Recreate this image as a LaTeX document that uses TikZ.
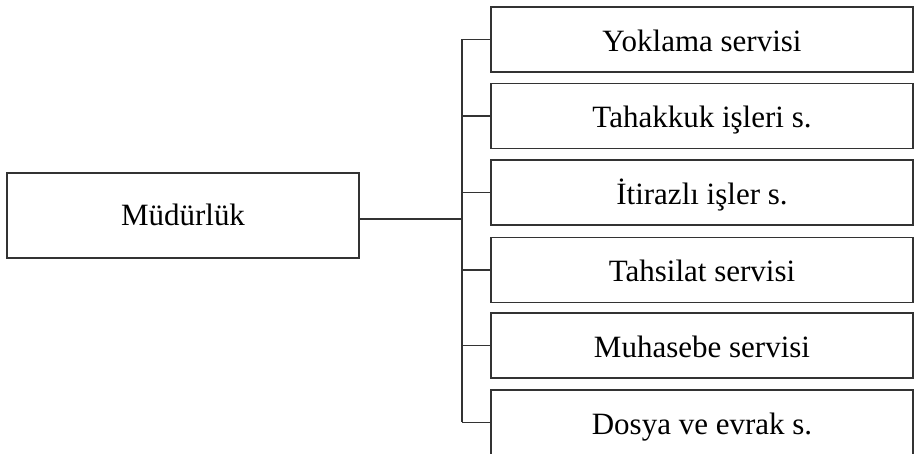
\documentclass[tikz,border=0pt]{standalone}
\usepackage{fontspec}
\setmainfont{Liberation Serif}
\begin{document}
\begin{tikzpicture}[x=1pt,y=-1pt,
  every node/.style={font=\fontsize{31}{36}\selectfont},
  unitbox/.style={draw=black!80, line width=1.3pt, inner sep=0pt,
    minimum width=422pt, minimum height=65pt, text height=26pt, text depth=2pt},
  headbox/.style={draw=black!80, line width=1.3pt, inner sep=0pt,
    minimum width=352pt, minimum height=85pt, text height=23pt, text depth=2pt},
  link/.style={draw=black!80, line width=1.3pt}]
\useasboundingbox (0,0) rectangle (914,454);

% head office
\node[headbox] (mud) at (183,215.5) {Müdürlük};

% units on the right
\node[unitbox] (u1) at (702,39.5) {Yoklama servisi};
\node[unitbox] (u2) at (702,116) {Tahakkuk işleri s.};
\node[unitbox] (u3) at (702,192.5) {İtirazlı işler s.};
\node[unitbox] (u4) at (702,270) {Tahsilat servisi};
\node[unitbox] (u5) at (702,345.5) {Muhasebe servisi};
\node[unitbox] (u6) at (702,422.5) {Dosya ve evrak s.};

% bus line joining the units
\coordinate (bus) at (462,219);
\coordinate (bustop) at (462,39.5);
\coordinate (busbot) at (462,422.5);
\draw[link] (bustop) -- (busbot);
\draw[link] (bus -| mud.east) -- (bus);
\foreach \u in {u1,u2,u3,u4,u5,u6}
  \draw[link] (bus |- \u.west) -- (\u.west);
\end{tikzpicture}
\end{document}
